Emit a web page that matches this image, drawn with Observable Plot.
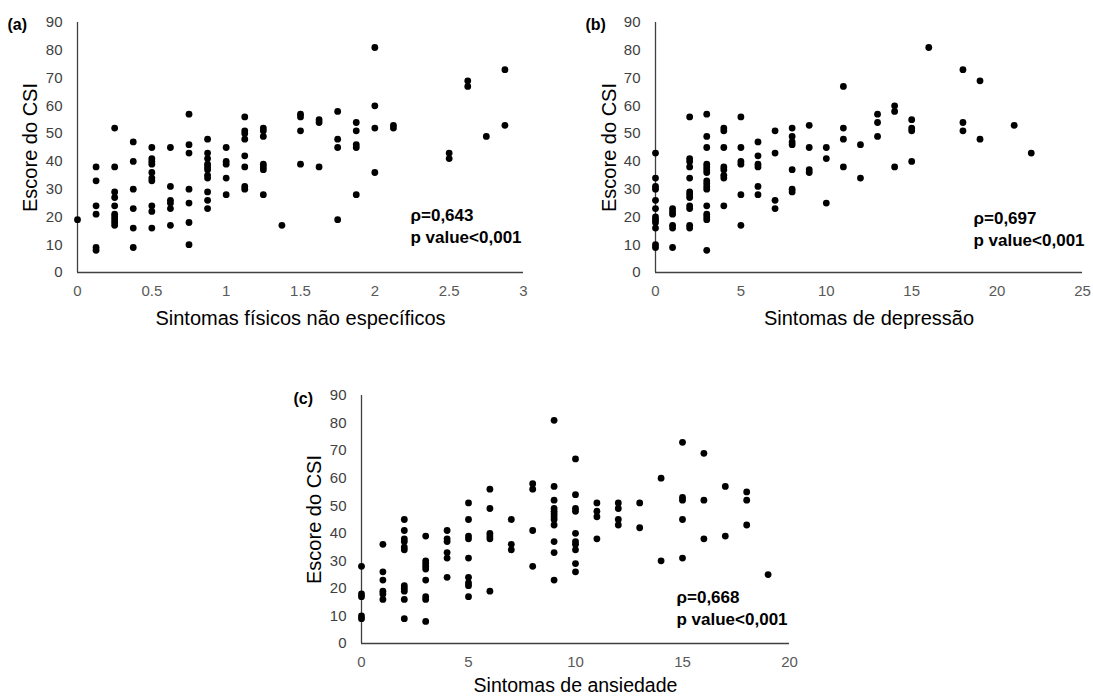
<!DOCTYPE html>
<html><head><meta charset="utf-8">
<script src="https://cdn.jsdelivr.net/npm/d3@7"></script>
<script src="https://cdn.jsdelivr.net/npm/@observablehq/plot@0.6"></script>
<style>
body{margin:0;background:#fff;}
#wrap{position:relative;width:1093px;height:697px;overflow:hidden;font-family:"Liberation Sans",Arial,sans-serif;}
.panel{position:absolute;}
</style></head><body><div id="wrap"></div>
<script>
// ---- shared ----
const yTicks = [0, 10, 20, 30, 40, 50, 60, 70, 80, 90];
const yTitle = "Escore do CSI";

// ---- panel (a): Sintomas físicos não específicos ----
const aTitle = "Sintomas físicos não específicos";
const aTicks = [0, 0.5, 1, 1.5, 2, 2.5, 3];
const aCols = [0, 0.125, 0.25, 0.375, 0.5, 0.625, 0.75, 0.875, 1, 1.125, 1.25, 1.375, 1.5, 1.625, 1.75, 1.875, 2, 2.125, 2.5, 2.625, 2.75, 2.875];
const aVals = [
  [19],
  [38, 33, 24, 21, 9, 8],
  [52, 38, 29, 27, 24, 21, 20, 19, 18, 17],
  [47, 40, 30, 23, 16, 9],
  [45, 41, 40, 39, 36, 34, 33, 24, 22, 16],
  [45, 31, 26, 25, 23, 17],
  [57, 46, 43, 30, 25, 18, 10],
  [48, 43, 41, 39, 38, 37, 35, 34, 29, 26, 23],
  [45, 40, 39, 34, 28],
  [56, 51, 50, 48, 42, 38, 31, 30],
  [52, 51, 49, 39, 38, 37, 28],
  [17],
  [57, 56, 51, 39],
  [55, 54, 38],
  [58, 48, 45, 19],
  [54, 51, 46, 45, 28],
  [81, 60, 52, 36],
  [53, 52],
  [43, 41],
  [69, 67],
  [49],
  [73, 53]
];
const aStat = "ρ=0,643\np value<0,001";

// ---- panel (b): Sintomas de depressão ----
const bTitle = "Sintomas de depressão";
const bTicks = [0, 5, 10, 15, 20, 25];
const bCols = [0, 1, 2, 3, 4, 5, 6, 7, 8, 9, 10, 11, 12, 13, 14, 15, 16, 18, 19, 21, 22];
const bVals = [
  [43, 34, 31, 30, 26, 23, 20, 19, 18, 16, 10, 9],
  [23, 22, 21, 17, 16, 9],
  [56, 41, 40, 38, 34, 29, 28, 27, 24, 23, 17, 16],
  [57, 49, 45, 39, 38, 37, 36, 33, 32, 31, 30, 24, 21, 20, 19, 8],
  [52, 51, 45, 38, 37, 35, 34, 24],
  [56, 45, 40, 39, 28, 17],
  [47, 42, 39, 38, 31, 28],
  [51, 43, 26, 23],
  [52, 49, 47, 46, 37, 30, 29],
  [53, 45, 37, 36],
  [45, 41, 25],
  [67, 52, 48, 38],
  [46, 34],
  [57, 54, 49],
  [60, 58, 38],
  [55, 52, 51, 40],
  [81],
  [73, 54, 51],
  [69, 48],
  [53],
  [43]
];
const bStat = "ρ=0,697\np value<0,001";

// ---- panel (c): Sintomas de ansiedade ----
const cTitle = "Sintomas de ansiedade";
const cTicks = [0, 5, 10, 15, 20];
const cCols = [0, 1, 2, 3, 4, 5, 6, 7, 8, 9, 10, 11, 12, 13, 14, 15, 16, 17, 18, 19];
const cVals = [
  [28, 18, 17, 10, 9],
  [36, 26, 23, 19, 18, 16],
  [45, 41, 38, 37, 35, 34, 21, 20, 19, 16, 9],
  [39, 30, 29, 28, 27, 23, 17, 16, 8],
  [41, 38, 37, 33, 31, 24],
  [51, 45, 39, 38, 31, 24, 22, 21, 17],
  [56, 49, 40, 39, 38, 19],
  [45, 36, 34],
  [58, 56, 41, 28],
  [81, 57, 52, 49, 48, 47, 46, 45, 43, 37, 33, 23],
  [67, 54, 49, 48, 40, 37, 36, 34, 29, 26],
  [51, 48, 46, 38],
  [51, 49, 45, 43],
  [51, 42],
  [60, 30],
  [73, 53, 52, 45, 31],
  [69, 52, 38],
  [57, 39],
  [55, 52, 43],
  [25]
];
const cStat = "ρ=0,668\np value<0,001";

const FONT = "'Liberation Sans', Arial, sans-serif";

function build(cfg) {
  const data = cfg.cols.flatMap((x, i) => cfg.vals[i].map(y => ({x, y})));
  const chart = Plot.plot({
    width: cfg.width, height: cfg.height,
    marginLeft: cfg.ml, marginRight: cfg.mr, marginTop: cfg.mt, marginBottom: cfg.mb,
    style: {fontFamily: FONT, fontSize: "15px", background: "transparent", overflow: "visible", color: "#000"},
    x: {domain: [cfg.ticks[0], cfg.ticks[cfg.ticks.length - 1]]},
    y: {domain: [0, 90]},
    marks: [
      Plot.axisX({ticks: cfg.ticks, tickSize: 0, tickPadding: 13, label: null, color: "#595959", tickFormat: d => String(d)}),
      Plot.axisY({ticks: yTicks, tickSize: 0, tickPadding: 15, label: null, color: "#404040"}),
      Plot.ruleY([0], {stroke: "#404040", strokeWidth: 1.3}),
      Plot.ruleX([0], {stroke: "#404040", strokeWidth: 1.3}),
      Plot.dot(data, {x: "x", y: "y", r: 3.4, fill: "#000", stroke: null}),
      Plot.text([cfg.title], {text: d => d, frameAnchor: "bottom", dy: cfg.titleDy, lineAnchor: "middle", fontSize: cfg.titleSize, fill: "#000"}),
      Plot.text([yTitle], {text: d => d, frameAnchor: "left", dx: cfg.yTitleDx, rotate: -90, lineAnchor: "middle", textAnchor: "middle", fontSize: 20, fill: "#000"}),
      Plot.text([cfg.letter], {text: d => d, frameAnchor: "top-left", dx: cfg.letterDx, dy: cfg.letterDy, textAnchor: "start", lineAnchor: "middle", fontSize: 16, fontWeight: "bold", fill: "#000"}),
      Plot.text([cfg.stat], {text: d => d, frameAnchor: "bottom-right", dx: cfg.statDx, dy: cfg.statDy, textAnchor: "start", lineAnchor: "bottom", lineHeight: 1.25, fontSize: 17, fontWeight: "bold", fill: "#000"})
    ]
  });
  const div = document.createElement("div");
  div.className = "panel";
  div.style.left = cfg.left + "px";
  div.style.top = cfg.top + "px";
  div.appendChild(chart);
  document.getElementById("wrap").appendChild(div);
}

build({left: 0, top: 0, width: 545, height: 330, ml: 77, mr: 22, mt: 22, mb: 58,
  cols: aCols, vals: aVals, ticks: aTicks, title: aTitle, letter: "(a)", stat: aStat,
  titleDy: 46, titleSize: 20, yTitleDx: -47, letterDx: -70, letterDy: 2, statDx: -113, statDy: -30});
build({left: 560, top: 0, width: 533, height: 330, ml: 95, mr: 11, mt: 22, mb: 58,
  cols: bCols, vals: bVals, ticks: bTicks, title: bTitle, letter: "(b)", stat: bStat,
  titleDy: 46, titleSize: 20, yTitleDx: -46, letterDx: -70, letterDy: 2, statDx: -109, statDy: -27});
build({left: 270, top: 370, width: 540, height: 327, ml: 91, mr: 21, mt: 25, mb: 54,
  cols: cCols, vals: cVals, ticks: cTicks, title: cTitle, letter: "(c)", stat: cStat,
  titleDy: 42, titleSize: 19.5, yTitleDx: -47, letterDx: -68, letterDy: 3, statDx: -113, statDy: -19});
</script></body></html>
